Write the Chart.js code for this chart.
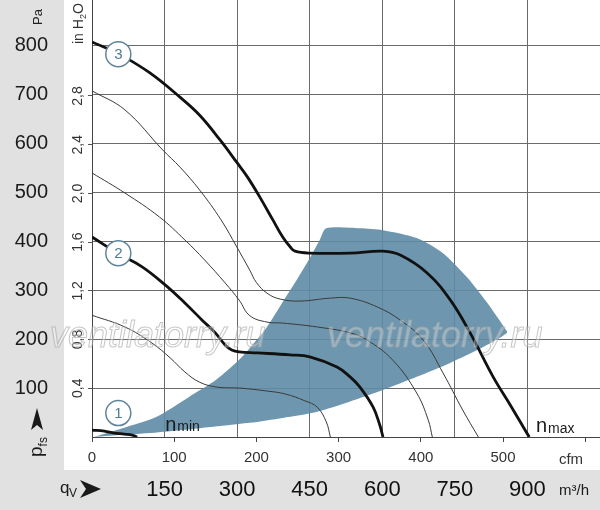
<!DOCTYPE html>
<html><head><meta charset="utf-8">
<script src="https://cdn.jsdelivr.net/npm/chart.js@4"></script>
<style>html,body{margin:0;padding:0;background:#fff;}canvas{display:block;}</style>
</head><body>
<canvas id="c" width="600" height="510"></canvas>
<script>
// ---- tick values ----
const cfmTicks = [0,100,200,300,400,500,600];
const m3hTicks = [150,300,450,600,750,900];
const paTicks = [100,200,300,400,500,600,700,800];
const inH2OTicks = [0.4,0.8,1.2,1.6,2.0,2.4,2.8];

// ---- axis ranges ----
const cfmMax = 618;
const paMax = 893.7;
const M3H_PER_CFM = 1.699;
const PA_PER_INH2O = 249.089;

// ---- curves (cfm, Pa) ----
const curve3Cfm = [0,33,70,107,131,156,176,189,204,220,232,241,247,265,314,354,375,408,436,460,488,509,529,532];
const curve3Pa  = [808,783,745,695,658,607,562,532,491,444,409,389,380,376,376,380,372,335,280,213,123,65,8,0];

const thinACfm = [0,40,86,107,131,157,176,192,200,213,229,253,290,314,347,375,403,427,451,470];
const thinAPa  = [708,669,587,552,505,444,389,341,316,294,282,278,284,284,266,239,198,131,55,0];

const thinBCfm = [0,40,82,113,137,162,179,192,213,232,274,314,335,366,395,409,414];
const thinBPa  = [540,499,450,403,362,315,280,248,235,233,225,213,198,157,90,35,0];

const curve2Cfm = [0,33,61,89,113,134,150,162,170,179,201,241,265,298,314,326,342,350,354];
const curve2Pa  = [409,374,348,311,274,239,213,188,178,174,172,168,164,143,123,102,61,25,0];

const thinCCfm = [0,40,73,95,113,131,152,180,213,235,259,274,285,290];
const thinCPa  = [249,225,192,162,133,112,102,100,94,88,74,61,31,0];

const curve1Cfm = [0,15,27,39,49,55];
const curve1Pa  = [14,12,8,6,4,0];

// operating region (closed outline)
const regionCfm = [2,37,78,118,151,179,191,212,232,249,265,277,285,326,354,395,427,456,481,502,505,476,435,395,354,313,273,232,192,131,70,17];
const regionPa  = [0,18,41,82,117,158,180,223,276,321,366,403,427,427,423,407,376,327,274,223,213,184,151,123,96,72,51,39,29,18,8,2];

// speed markers
const markerCfm = [32,32,32];
const markerPa  = [49,376,783];
const markerLabels = ['1','2','3'];

const SANS = "'Liberation Sans', Arial, sans-serif";

const pts = (xs, ys) => xs.map((x, i) => ({x, y: ys[i]}));

function thick(xs, ys) {
  return {data: pts(xs, ys), showLine: true, borderColor: '#111', borderWidth: 2.8, pointRadius: 0,
          tension: 0.4, fill: false, order: 3};
}
function thin(xs, ys) {
  return {data: pts(xs, ys), showLine: true, borderColor: '#3a3a3a', borderWidth: 1, pointRadius: 0,
          tension: 0.4, fill: false, order: 5};
}

function drawRot(ctx, x, y, pieces) {
  ctx.save();
  ctx.translate(x, y);
  ctx.rotate(-Math.PI / 2);
  ctx.textAlign = 'left';
  ctx.textBaseline = 'alphabetic';
  let cx = 0;
  for (const p of pieces) {
    ctx.font = p.font;
    ctx.fillStyle = p.color || '#222';
    ctx.fillText(p.t, cx, p.dy || 0);
    cx += ctx.measureText(p.t).width;
  }
  ctx.restore();
}

const decor = {
  id: 'decor',
  beforeDraw(chart) {
    const {ctx, width, height} = chart;
    const yS = chart.scales.y, x2 = chart.scales.x2;
    ctx.save();
    ctx.fillStyle = '#fff';
    ctx.fillRect(0, 0, width, height);
    ctx.fillStyle = '#e1e1e1';
    ctx.fillRect(0, 0, yS.right, height);
    ctx.fillRect(0, x2.top, width, height - x2.top);
    ctx.restore();
  },
  afterDatasetsDraw(chart) {
    const {ctx} = chart;
    const xs = chart.scales.x, ys = chart.scales.y;
    const meta = chart.getDatasetMeta(0);
    ctx.save();
    ctx.font = '15px ' + SANS;
    ctx.fillStyle = '#4f7b94';
    ctx.textAlign = 'center';
    ctx.textBaseline = 'middle';
    meta.data.forEach((el, i) => ctx.fillText(markerLabels[i], el.x, el.y + 1));
    ctx.textAlign = 'left';
    ctx.textBaseline = 'alphabetic';
    ctx.fillStyle = '#1a1a1a';
    let px = xs.getPixelForValue(89), py = ys.getPixelForValue(12);
    ctx.font = '20px ' + SANS; ctx.fillText('n', px, py);
    px += ctx.measureText('n').width + 1;
    ctx.font = '14px ' + SANS; ctx.fillText('min', px, py);
    px = xs.getPixelForValue(540); py = ys.getPixelForValue(10);
    ctx.font = '20px ' + SANS; ctx.fillText('n', px, py);
    px += ctx.measureText('n').width + 1;
    ctx.font = '14px ' + SANS; ctx.fillText('max', px, py + 1);
    ctx.restore();
  },
  afterDraw(chart) {
    const {ctx} = chart;
    ctx.save();
    ctx.fillStyle = '#333';
    ctx.font = '15px ' + SANS;
    ctx.textAlign = 'center';
    ctx.textBaseline = 'middle';
    ctx.fillText('cfm', 571, 460);
    ctx.fillStyle = '#1a1a1a';
    ctx.font = '15px ' + SANS;
    ctx.fillText('m³/h', 574, 491);
    ctx.textAlign = 'left';
    ctx.textBaseline = 'alphabetic';
    ctx.font = '17px ' + SANS;
    ctx.fillText('q', 60, 493);
    ctx.font = '12px ' + SANS;
    ctx.fillText('V', 69, 497);
    ctx.beginPath();
    ctx.moveTo(101, 489); ctx.lineTo(80, 480); ctx.lineTo(86, 489); ctx.lineTo(80, 498); ctx.closePath();
    ctx.fill();
    ctx.beginPath();
    ctx.moveTo(37, 408); ctx.lineTo(31, 430); ctx.lineTo(37, 425); ctx.lineTo(43, 430); ctx.closePath();
    ctx.fill();
    drawRot(ctx, 42, 457, [{t: 'p', font: '19px ' + SANS, color: '#1a1a1a'}, {t: 'fs', font: '12px ' + SANS, dy: 5, color: '#1a1a1a'}]);
    drawRot(ctx, 42, 25, [{t: 'Pa', font: '13px ' + SANS, color: '#222'}]);
    drawRot(ctx, 83, 44, [{t: 'in H', font: '14px ' + SANS, color: '#333'}, {t: '2', font: '9px ' + SANS, dy: 3, color: '#333'}, {t: 'O', font: '14px ' + SANS, color: '#333'}]);
    ctx.font = 'italic 36px ' + SANS;
    ctx.lineWidth = 1;
    ctx.strokeStyle = 'rgba(160,160,160,0.6)';
    ctx.fillStyle = 'rgba(255,255,255,0.3)';
    for (const wx of [50, 327]) {
      ctx.fillText('ventilatorry.ru', wx, 347);
      ctx.strokeText('ventilatorry.ru', wx, 347);
    }
    ctx.restore();
  }
};

const fixTicks = (arr) => (s) => { s.ticks = arr.map(v => ({value: v})); };

new Chart(document.getElementById('c'), {
  type: 'scatter',
  data: {
    datasets: [
      {data: pts(markerCfm, markerPa), showLine: false, pointRadius: 12.5, pointBackgroundColor: '#fff',
       pointBorderColor: '#5d849b', pointBorderWidth: 1.5, order: 1},
      thick(curve3Cfm, curve3Pa),
      thick(curve2Cfm, curve2Pa),
      thick(curve1Cfm, curve1Pa),
      thin(thinACfm, thinAPa),
      thin(thinBCfm, thinBPa),
      thin(thinCCfm, thinCPa),
      {data: pts(regionCfm, regionPa), showLine: true, borderWidth: 0, borderColor: 'rgba(0,0,0,0)',
       backgroundColor: 'rgba(94,140,166,0.9)', fill: 'shape', tension: 0.25, pointRadius: 0, order: 10}
    ]
  },
  options: {
    responsive: false,
    animation: false,
    events: [],
    layout: {padding: 0, autoPadding: false},
    plugins: {legend: {display: false}, tooltip: {enabled: false}},
    scales: {
      x: {
        type: 'linear', position: 'bottom', weight: 0, min: 0, max: cfmMax,
        afterBuildTicks: fixTicks(cfmTicks),
        afterFit: s => { s.height = 33; s.paddingLeft = 0; s.paddingRight = 0; },
        ticks: {callback: v => v === 600 ? '' : String(v), font: {family: SANS, size: 15}, color: '#333',
                padding: 7, maxRotation: 0, autoSkip: false},
        grid: {drawOnChartArea: false, drawTicks: true, tickLength: 5, tickColor: '#444', tickWidth: 1},
        border: {display: true, color: '#444', width: 1}
      },
      x2: {
        type: 'linear', position: 'bottom', weight: 1, min: 0, max: cfmMax * M3H_PER_CFM,
        afterBuildTicks: fixTicks(m3hTicks),
        afterFit: s => { s.height = 40; s.paddingLeft = 0; s.paddingRight = 0; },
        ticks: {font: {family: SANS, size: 22}, color: '#111', padding: 7, maxRotation: 0, autoSkip: false},
        grid: {drawOnChartArea: true, drawTicks: false, color: '#6a6a6a', lineWidth: 1},
        border: {display: false}
      },
      y: {
        type: 'linear', position: 'left', weight: 1, min: 0, max: paMax,
        afterBuildTicks: fixTicks(paTicks),
        afterFit: s => { s.width = 64; s.paddingTop = 0; s.paddingBottom = 0; },
        ticks: {font: {family: SANS, size: 20}, color: '#1a1a1a', crossAlign: 'center', padding: 16, autoSkip: false},
        grid: {drawOnChartArea: true, drawTicks: false, color: '#6a6a6a', lineWidth: 1},
        border: {display: false}
      },
      y2: {
        type: 'linear', position: 'left', weight: 0, min: 0, max: paMax / PA_PER_INH2O,
        afterBuildTicks: fixTicks(inH2OTicks),
        afterFit: s => { s.width = 28; s.paddingTop = 0; s.paddingBottom = 0; },
        ticks: {callback: v => v.toFixed(1).replace('.', ','), font: {family: SANS, size: 14}, color: '#333',
                minRotation: 90, maxRotation: 90, crossAlign: 'center', padding: 0, autoSkip: false},
        grid: {drawOnChartArea: false, drawTicks: true, tickLength: 4, tickColor: '#555'},
        border: {display: true, color: '#444', width: 1}
      }
    }
  },
  plugins: [decor]
});
</script>
</body></html>
